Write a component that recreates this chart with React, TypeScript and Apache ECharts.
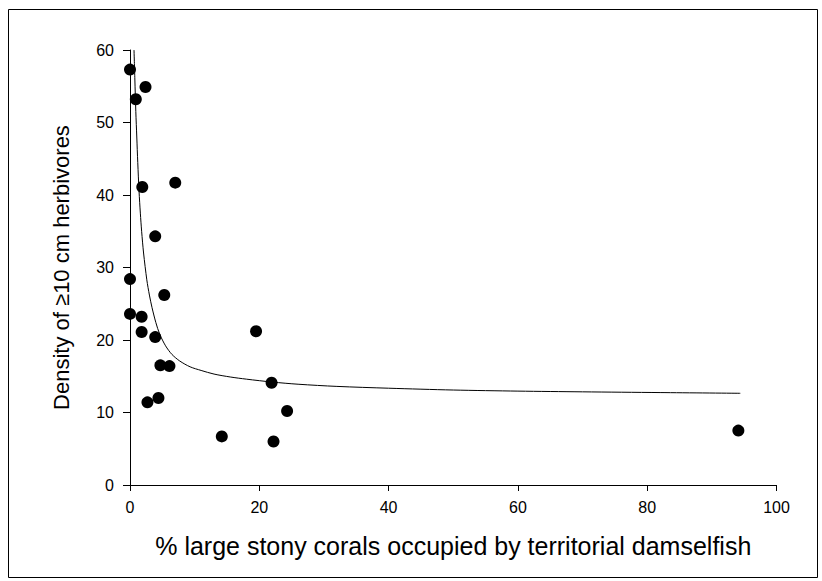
import React, { useEffect, useRef } from "react";
import * as echarts from "echarts";

const xTicks = [0, 20, 40, 60, 80, 100];
const yTicks = [0, 10, 20, 30, 40, 50, 60];

const pointsX = [0, 0.9, 2.4, 1.9, 7.0, 3.9, 0, 5.3, 0, 1.8, 1.8, 3.9, 4.7, 6.1, 2.7, 4.4, 19.5, 21.9, 24.3, 14.2, 22.2, 94.1];
const pointsY = [57.3, 53.2, 54.9, 41.1, 41.7, 34.3, 28.4, 26.2, 23.6, 23.2, 21.1, 20.4, 16.5, 16.4, 11.4, 12.0, 21.2, 14.1, 10.2, 6.7, 6.0, 7.5];

const curveX = [0.62, 0.75, 0.9, 1.05, 1.2, 1.4, 1.6, 1.8, 2.1, 2.6, 3.0, 3.4, 4.0, 4.6, 5.5, 6.5, 7.7, 9.3, 11, 13, 15.5, 18, 22, 26, 32, 40, 50, 60, 70, 82, 94.4];
const curveY = [60, 56, 51.5, 48, 44.5, 40.5, 37.5, 35, 32, 28.3, 26.2, 24.5, 22.4, 20.8, 19.2, 18.0, 17.1, 16.3, 15.8, 15.3, 14.9, 14.6, 14.2, 13.9, 13.6, 13.35, 13.1, 12.95, 12.85, 12.75, 12.65];

const xTitle = "% large stony corals occupied by territorial damselfish";
const yTitle = "Density of \u226510 cm herbivores";

const FONT = "'Liberation Sans', Arial, sans-serif";

export default function App() {
  const ref = useRef<HTMLDivElement>(null);
  useEffect(() => {
    if (!ref.current) return;
    const chart = echarts.init(ref.current, null, { renderer: "svg" });
    const scatterData = pointsX.map((x, i) => [x, pointsY[i]]);
    const curveData = curveX.map((x, i) => [x, curveY[i]]);
    chart.setOption({
      animation: false,
      backgroundColor: "#fff",
      textStyle: { fontFamily: FONT },
      grid: { left: 130, top: 50, right: 45.5, bottom: 96 },
      xAxis: {
        type: "value",
        min: xTicks[0],
        max: xTicks[xTicks.length - 1],
        interval: 20,
        name: xTitle,
        nameLocation: "middle",
        nameGap: 48,
        nameTextStyle: { fontSize: 25, color: "#000", fontFamily: FONT },
        axisLine: { show: true, lineStyle: { color: "#000", width: 1 } },
        axisTick: { show: true, length: 6, inside: false, lineStyle: { color: "#000" } },
        axisLabel: { fontSize: 16, color: "#000", margin: 14, fontFamily: FONT },
        splitLine: { show: false },
      },
      yAxis: {
        type: "value",
        min: yTicks[0],
        max: yTicks[yTicks.length - 1],
        interval: 10,
        name: yTitle,
        nameLocation: "middle",
        nameGap: 58,
        nameTextStyle: { fontSize: 22, color: "#000", fontFamily: FONT },
        axisLine: { show: true, lineStyle: { color: "#000", width: 1 } },
        axisTick: { show: true, length: 7, inside: false, lineStyle: { color: "#000" } },
        axisLabel: { fontSize: 16, color: "#000", margin: 16, fontFamily: FONT },
        splitLine: { show: false },
      },
      series: [
        {
          type: "line",
          data: curveData,
          smooth: 0.3,
          showSymbol: false,
          symbol: "none",
          lineStyle: { color: "#000", width: 1 },
          z: 2,
        },
        {
          type: "scatter",
          data: scatterData,
          symbol: "circle",
          symbolSize: 12,
          itemStyle: { color: "#000", opacity: 1 },
          z: 3,
        },
      ],
      graphic: [
        {
          type: "rect",
          shape: { x: 8.5, y: 9.5, width: 809, height: 568 },
          style: { fill: "none", stroke: "#000", lineWidth: 1 },
          silent: true,
        },
      ],
    });
    return () => chart.dispose();
  }, []);
  return (
    <div
      ref={ref}
      style={{ position: "fixed", left: 0, top: 0, width: 822, height: 581 }}
    />
  );
}
